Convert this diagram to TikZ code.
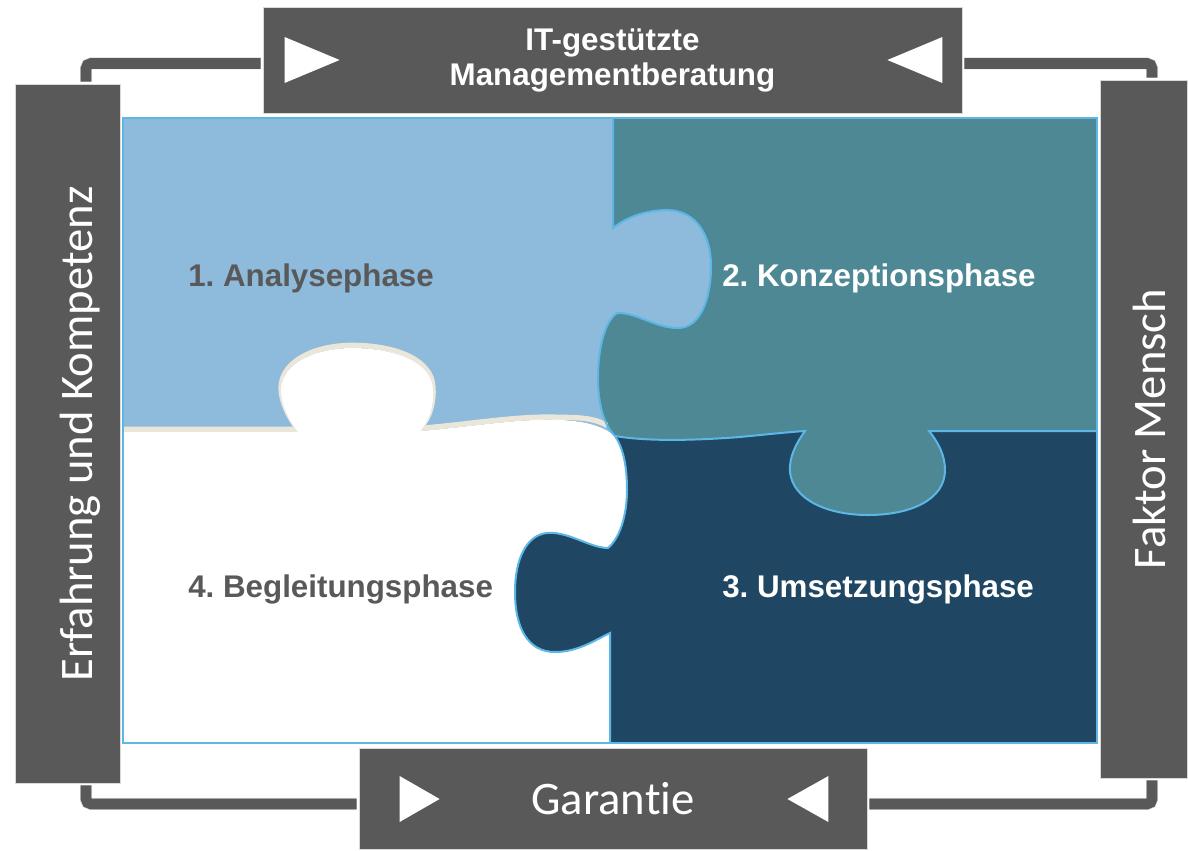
\documentclass[tikz,border=0pt]{standalone}
\usepackage{fontspec}
\setmainfont{Liberation Sans}
\newfontfamily\calibrifont[Ligatures=NoCommon]{Carlito}
\usepackage{tikz}
\usetikzlibrary{positioning,calc}
\frenchspacing

\definecolor{boxgray}{HTML}{595959}
\definecolor{labelgray}{HTML}{595959}
\definecolor{analyseblue}{HTML}{8EBADB}
\definecolor{konzeptteal}{HTML}{4D8894}
\definecolor{umsetznavy}{HTML}{1F4662}
\definecolor{seamblue}{HTML}{5DB7E6}
\definecolor{shadowbeige}{HTML}{EAE6DA}

\tikzset{
  box/.style={fill=boxgray,draw=gray!30,line width=0.6pt,inner sep=0pt,text=white},
  link/.style={draw=gray!30,line width=0.5pt,double=boxgray,double distance=8pt,rounded corners=3.75pt},
  phase/.style={font=\bfseries\fontsize{23.5}{28}\selectfont,inner sep=0pt,anchor=base west},
  sidetext/.style={font=\calibrifont\fontsize{35}{40}\selectfont,text=white,inner sep=0pt,rotate=90,anchor=base},
  seam/.style={draw=seamblue,line width=1.5pt},
  % seams between the pieces, each starts where the path stands
  seam top/.style={insert path={-- (613,228) .. controls (628,216) and (648,210) .. (668,210)
      .. controls (697,211) and (711,236) .. (711,266) .. controls (711,300) and (700,328) .. (678,328)
      .. controls (655,328) and (636,312) .. (617,313) .. controls (604,322) and (598,350) .. (598,378)
      .. controls (598,405) and (604,425) .. (615,436)}},
  seam right/.style={insert path={.. controls (650,442) and (700,440) .. (740,437)
      .. controls (770,434) and (790,432) .. (805,431) .. controls (795,445) and (789,458) .. (790,472)
      .. controls (793,500) and (828,515) .. (868,515) .. controls (910,515) and (945,500) .. (945,470)
      .. controls (945,455) and (938,442) .. (929,431) -- (1097,431)}},
  seam left/.style={insert path={.. controls (605,428) and (590,421) .. (560,420)
      .. controls (520,418) and (470,427) .. (420,431) .. controls (430,420) and (434,405) .. (433,390)
      .. controls (432,362) and (395,348) .. (352,348) .. controls (318,348) and (282,362) .. (281,390)
      .. controls (281,405) and (289,420) .. (298,432) -- (123,432)}},
  seam bottom/.style={insert path={-- (610,633) .. controls (595,640) and (578,652) .. (555,652)
      .. controls (528,652) and (515,628) .. (515,592) .. controls (515,558) and (527,535) .. (547,533)
      .. controls (568,531) and (590,548) .. (608,548) .. controls (620,538) and (627,515) .. (627,490)
      .. controls (627,465) and (623,448) .. (615,436)}}
}

\begin{document}
\begin{tikzpicture}[x=0.75pt,y=-0.75pt]
  \useasboundingbox (0,0) rectangle (1188,850);

  % puzzle
  \fill[umsetznavy] (123,118) rectangle (1097,743);
  \fill[konzeptteal] (615,436) [seam right] -- (1097,118) -- (123,118) -- (123,436) -- cycle;
  \fill[analyseblue] (123,118) -- (613,118) [seam top] [seam left] -- cycle;
  \draw[shadowbeige,line width=4pt,yshift=2pt] (607,428) .. controls (596,422) and (585,420) .. (560,420)
      .. controls (520,418) and (470,427) .. (420,431) .. controls (430,420) and (434,405) .. (433,390)
      .. controls (432,362) and (395,348) .. (352,348) .. controls (318,348) and (282,362) .. (281,390)
      .. controls (281,405) and (289,420) .. (298,432) -- (123,432);
  \fill[white] (123,743) -- (610,743) [seam bottom] [seam left] -- cycle;
  \draw[seam] (613,118) [seam top];
  \draw[seam] (615,436) [seam right];
  \draw[seam] (610,743) [seam bottom];
  \draw[seam] (123,118) rectangle (1097,743);

  \node at (188,286) [phase,text=labelgray] (ana) {1. Analysephase};
  \node at (722,286) [phase,text=white] (kon) {2. Konzeptionsphase};
  \node at (722,597) [phase,text=white] (ums) {3. Umsetzungsphase};
  \node at (188,597) [phase,text=labelgray] (beg) {4. Begleitungsphase};

  % frame boxes
  \node at (612.5,60) [box,minimum width=524.25pt,minimum height=79.5pt,align=center,
    font=\bfseries\fontsize{23.5}{26.25}\selectfont] (top) {IT-gestützte\\Managementberatung};
  \node at (613,798.5) [box,minimum width=381pt,minimum height=75.75pt,
    font=\calibrifont\fontsize{35}{40}\selectfont] (bot) {Garantie};
  \node at (67.5,433.5) [box,minimum width=78.75pt,minimum height=524.25pt] (lft) {};
  \node at (1143.5,429) [box,minimum width=65.25pt,minimum height=523.5pt] (rgt) {};

  \node at (92,434) [sidetext] (erf) {Erfahrung und Kompetenz};
  \node at (1165,429) [sidetext] (mensch) {Faktor Mensch};

  \fill[white] ($(top.west)+(22,-23)$) -- ++(0,46) -- ++(55,-23) -- cycle;
  \fill[white] ($(top.east)+(-20,-23)$) -- ++(0,46) -- ++(-55,-23) -- cycle;
  \fill[white] ($(bot.west)+(41,-22.5)$) -- ++(0,46) -- ++(40,-23) -- cycle;
  \fill[white] ($(bot.east)+(-39,-22.5)$) -- ++(0,46) -- ++(-41,-23) -- cycle;

  % connectors
  \draw[link,shorten <=1.5pt,shorten >=1.5pt] ([yshift=-2.6pt]top.west) -| ([xshift=13.9pt]lft.north);
  \draw[link,shorten <=1.5pt,shorten >=1.5pt] ([yshift=-2.6pt]top.east) -| ([xshift=6.4pt]rgt.north);
  \draw[link,shorten <=1.5pt,shorten >=1.5pt] ([xshift=13.9pt]lft.south) |- ([yshift=-4.1pt]bot.west);
  \draw[link,shorten <=1.5pt,shorten >=1.5pt] ([yshift=-4.1pt]bot.east) -| ([xshift=6.4pt]rgt.south);
\end{tikzpicture}
\end{document}
